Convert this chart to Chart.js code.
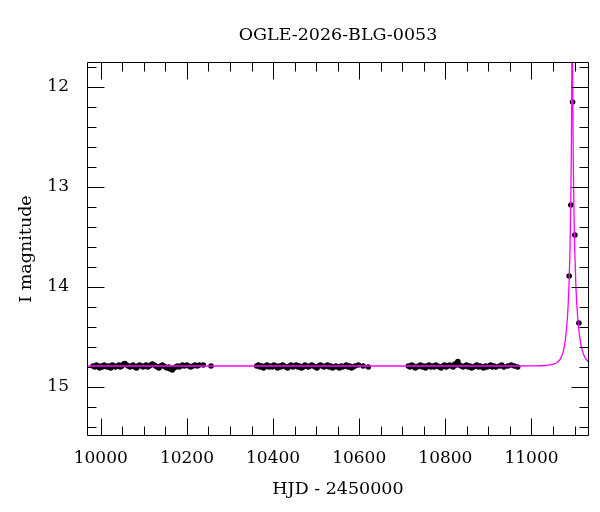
<!DOCTYPE html>
<html>
<head>
<meta charset="utf-8">
<script src="https://cdn.jsdelivr.net/npm/chart.js@4/dist/chart.umd.min.js"></script>
<style>
html,body{margin:0;padding:0;background:#fff;}
#c{display:block;}
</style>
</head>
<body>
<canvas id="c" width="600" height="512"></canvas>
<script>
// ---- data ----
const titleText = 'OGLE-2026-BLG-0053';
const xTitle = 'HJD - 2450000';
const yTitle = 'I magnitude';

const xTickLabels = [10000, 10200, 10400, 10600, 10800, 11000];
const xMinorTicks = [10050,10100,10150,10250,10300,10350,10450,10500,10550,10650,10700,10750,10850,10900,10950,11050,11100];
const yTickLabels = [12, 13, 14, 15];
const yMinorTicks = [11.8,12.2,12.4,12.6,12.8,13.2,13.4,13.6,13.8,14.2,14.4,14.6,14.8,15.2,15.4];

const season1Days = [9982,9986,9990,9993,9997,10001,10004,10008,10012,10015,
  10019,10023,10027,10030,10034,10038,10042,10045,10049,10053,
  10056,10060,10064,10068,10071,10075,10079,10083,10086,10090,
  10094,10098,10101,10105,10109,10113,10116,10120,10124,10128,
  10131,10135,10139,10143,10146,10150,10154,10158,10161,10166,
  10170,10174,10178,10182,10186,10190,10194,10200,10204,10209,
  10214,10219,10224,10229,10238,10256];
const season1Mags = [14.79,14.80,14.78,14.79,14.81,14.79,14.80,14.78,14.79,14.80,
  14.79,14.81,14.78,14.79,14.80,14.79,14.78,14.80,14.79,14.77,
  14.765,14.78,14.79,14.80,14.79,14.78,14.80,14.81,14.79,14.78,
  14.79,14.80,14.79,14.78,14.80,14.79,14.78,14.77,14.78,14.79,
  14.80,14.81,14.79,14.78,14.79,14.80,14.81,14.80,14.82,14.83,
  14.81,14.80,14.79,14.80,14.79,14.78,14.79,14.78,14.79,14.80,
  14.79,14.78,14.79,14.78,14.78,14.79];

const season2Days = [10362,10366,10370,10374,10378,10382,10386,10390,10394,10398,
  10402,10406,10410,10414,10418,10422,10426,10430,10434,10438,
  10442,10446,10450,10454,10458,10462,10466,10470,10474,10478,
  10482,10486,10490,10494,10498,10502,10506,10510,10514,10518,
  10522,10526,10530,10534,10538,10542,10546,10550,10554,10558,
  10562,10566,10570,10574,10578,10582,10586,10590,10598,10609,
  10621];
const season2Mags = [14.79,14.78,14.80,14.79,14.81,14.79,14.78,14.80,14.79,14.80,
  14.78,14.79,14.81,14.79,14.80,14.78,14.79,14.80,14.81,14.79,
  14.78,14.80,14.79,14.78,14.80,14.79,14.81,14.80,14.78,14.79,
  14.80,14.79,14.78,14.79,14.80,14.81,14.79,14.78,14.79,14.80,
  14.79,14.78,14.80,14.79,14.81,14.80,14.79,14.80,14.81,14.79,
  14.80,14.79,14.78,14.80,14.79,14.81,14.80,14.79,14.78,14.79,
  14.80];

const season3Days = [10714,10718,10722,10726,10730,10734,10738,10742,10746,10750,
  10754,10758,10762,10766,10770,10774,10778,10782,10786,10790,
  10794,10798,10802,10806,10810,10814,10818,10822,10826,10829,
  10833,10837,10841,10845,10849,10853,10857,10861,10865,10869,
  10873,10877,10881,10885,10889,10893,10897,10901,10905,10909,
  10913,10917,10926,10931,10936,10945,10953,10960,10968];
const season3Mags = [14.79,14.80,14.78,14.79,14.81,14.80,14.79,14.78,14.80,14.79,
  14.81,14.79,14.78,14.80,14.79,14.80,14.78,14.79,14.80,14.81,
  14.79,14.78,14.80,14.79,14.78,14.79,14.80,14.77,14.78,14.745,
  14.78,14.79,14.80,14.79,14.78,14.80,14.79,14.81,14.80,14.79,
  14.78,14.80,14.79,14.80,14.81,14.79,14.80,14.79,14.78,14.80,
  14.79,14.80,14.79,14.78,14.80,14.79,14.78,14.79,14.80];

const peakDays = [11087.5, 11091.4, 11095.4, 11100.7, 11110];
const peakMags = [13.89, 13.18, 12.15, 13.48, 14.36];

const modelDays = [9968,10900,10960,11000,11030,11050,11060,11068,11074,11078,
  11082,11085,11087.5,11089.5,11091,11092.5,11093.5,11094,11094.5,11095.1,
  11095.65,11096.8,11098.5,11100.25,11102.5,11105.4,11108.9,11113.5,11118.1,11125,
  11134.2,11145];
const modelMags = [14.790,14.790,14.790,14.789,14.785,14.774,14.752,14.711,14.639,14.547,
  14.387,14.187,13.924,13.60,13.24,12.655,11.96,11.32,10.54,11.32,
  11.96,12.655,13.24,13.60,13.924,14.187,14.387,14.547,14.639,14.711,
  14.752,14.772];

// ---- build chart ----
const toXY = (xs, ys) => xs.map((v, i) => ({x: v, y: ys[i]}));
const obsPoints = [].concat(
  toXY(season1Days, season1Mags),
  toXY(season2Days, season2Mags),
  toXY(season3Days, season3Mags),
  toXY(peakDays, peakMags)
);
const modelPoints = toXY(modelDays, modelMags);

const FONT = 'DejaVu Serif';

const frameTicks = {
  id: 'frameTicks',
  afterDatasetsDraw(chart) {
    const {ctx, chartArea: a, scales: {x, y}} = chart;
    const MAJ = 17, MIN = 9;
    ctx.save();
    ctx.strokeStyle = '#000';
    ctx.lineWidth = 1;
    ctx.beginPath();
    const L = Math.round(a.left) + 0.5, R = Math.round(a.right) - 0.5;
    const T = Math.round(a.top) + 0.5, B = Math.round(a.bottom) - 0.5;
    ctx.rect(L, T, R - L, B - T);
    const xt = (v, len) => {
      const p = Math.round(x.getPixelForValue(v)) + 0.5;
      ctx.moveTo(p, T); ctx.lineTo(p, T + len);
      ctx.moveTo(p, B); ctx.lineTo(p, B - len);
    };
    const yt = (v, len) => {
      const p = Math.round(y.getPixelForValue(v)) + 0.5;
      ctx.moveTo(L, p); ctx.lineTo(L + len, p);
      ctx.moveTo(R, p); ctx.lineTo(R - len, p);
    };
    xTickLabels.forEach(v => xt(v, MAJ));
    xMinorTicks.forEach(v => xt(v, MIN));
    yTickLabels.forEach(v => yt(v, MAJ));
    yMinorTicks.forEach(v => yt(v, MIN));
    ctx.stroke();
    ctx.restore();
  }
};

new Chart(document.getElementById('c'), {
  type: 'scatter',
  data: {
    datasets: [
      {
        type: 'line',
        label: 'model',
        data: modelPoints,
        borderColor: '#ff00ff',
        borderWidth: 1.3,
        pointRadius: 0,
        fill: false,
        cubicInterpolationMode: 'monotone',
        order: 0
      },
      {
        label: 'OGLE I',
        data: obsPoints,
        backgroundColor: '#000',
        borderColor: '#000',
        borderWidth: 0,
        pointRadius: 2.8,
        order: 1
      }
    ]
  },
  options: {
    responsive: false,
    animation: false,
    devicePixelRatio: 1,
    layout: {padding: {left: 0, right: 11, top: 0, bottom: 0}},
    plugins: {
      legend: {display: false},
      tooltip: {enabled: false},
      title: {
        display: true,
        text: titleText,
        fullSize: false,
        color: '#000',
        font: {family: FONT, size: 17.5, weight: 'normal'},
        padding: {top: 25, bottom: 16}
      }
    },
    scales: {
      x: {
        type: 'linear',
        min: 9968,
        max: 11133.5,
        grid: {display: false, drawTicks: false},
        border: {display: false},
        afterBuildTicks(s) { s.ticks = xTickLabels.map(v => ({value: v})); },
        afterFit(s) { s.height = 76; },
        ticks: {
          color: '#000',
          font: {family: FONT, size: 17},
          padding: 12,
          maxRotation: 0,
          autoSkip: false,
          callback: v => String(v)
        },
        title: {
          display: true,
          text: xTitle,
          color: '#000',
          font: {family: FONT, size: 17.5},
          padding: {top: 0, bottom: 12}
        }
      },
      y: {
        type: 'linear',
        reverse: true,
        min: 11.75,
        max: 15.49,
        grid: {display: false, drawTicks: false},
        border: {display: false},
        afterBuildTicks(s) { s.ticks = yTickLabels.map(v => ({value: v})); },
        afterFit(s) { s.width = 87; },
        ticks: {
          color: '#000',
          font: {family: FONT, size: 17},
          padding: 18,
          callback: v => String(v)
        },
        title: {
          display: true,
          text: yTitle,
          color: '#000',
          font: {family: FONT, size: 17.5},
          padding: {top: 16, bottom: 0}
        }
      }
    }
  },
  plugins: [frameTicks]
});
</script>
</body>
</html>
